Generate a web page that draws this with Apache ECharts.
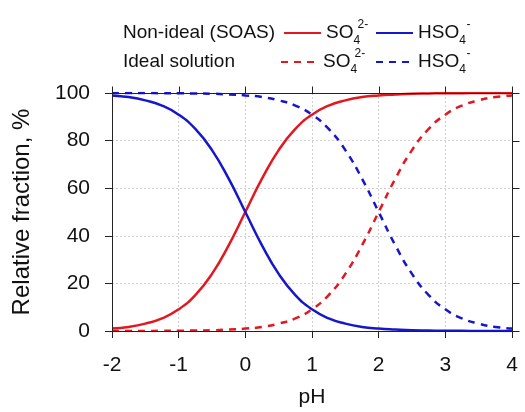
<!DOCTYPE html>
<html>
<head>
<meta charset="utf-8">
<script src="https://cdn.jsdelivr.net/npm/echarts@6/dist/echarts.min.js"></script>
<style>
  html, body { margin: 0; padding: 0; background: #fff; }
  #chart { width: 525px; height: 412px; }
</style>
</head>
<body>
<div id="chart"></div>
<script>
// pH steps
const pH = [-2, -1.75, -1.5, -1.25, -1, -0.75, -0.5, -0.25, 0, 0.25, 0.5, 0.75, 1,
  1.25, 1.5, 1.75, 2, 2.25, 2.5, 2.75, 3, 3.25, 3.5, 3.75, 4]

// non-ideal (SOAS)
const so4Soas = [1.0, 1.7, 3.1, 5.3, 9.1, 15.1, 24.0, 36.0, 50.0, 64.0, 76.0, 84.9, 90.9,
  94.7, 96.9, 98.3, 99.0, 99.4, 99.7, 99.8, 99.9, 99.9, 100, 100, 100]
const hso4Soas = [99.0, 98.3, 96.9, 94.7, 90.9, 84.9, 76.0, 64.0, 50.0, 36.0, 24.0, 15.1, 9.1,
  5.3, 3.1, 1.7, 1.0, 0.6, 0.3, 0.2, 0.1, 0.1, 0, 0, 0]

// ideal solution
const so4Ideal = [0, 0, 0, 0.1, 0.1, 0.2, 0.3, 0.6, 1.0, 1.7, 3.1, 5.3, 9.1,
  15.1, 24.0, 36.0, 50.0, 64.0, 76.0, 84.9, 90.9, 94.7, 96.9, 98.3, 99.0]
const hso4Ideal = [100, 100, 100, 99.9, 99.9, 99.8, 99.7, 99.4, 99.0, 98.3, 96.9, 94.7, 90.9,
  84.9, 76.0, 64.0, 50.0, 36.0, 24.0, 15.1, 9.1, 5.3, 3.1, 1.7, 1.0]

const xTicks = [-2, -1, 0, 1, 2, 3, 4]
const yTicks = [0, 20, 40, 60, 80, 100]

const RED = '#e3181f'
const BLUE = '#1616cc'
const FONT = 'Liberation Sans'

const chart = echarts.init(document.getElementById('chart'))

const pairs = ys => pH.map((x, i) => [x, ys[i]])

const mkSeries = (name, ys, color, dashed) => ({
  name: name,
  type: 'line',
  data: pairs(ys),
  smooth: true,
  showSymbol: false,
  symbol: 'none',
  lineStyle: { color: color, width: 2.5, type: dashed ? [7, 6] : 'solid' },
  itemStyle: { color: color },
  z: 3
})

// box round the plot plus the mirrored ticks on top and right
const frameSeries = {
  name: 'frame',
  type: 'custom',
  silent: true,
  clip: false,
  z: 10,
  data: [[xTicks[0], yTicks[0]]],
  renderItem: (params, api) => {
    const c = v => Math.round(v) + 0.5
    const tl = api.coord([xTicks[0], yTicks[yTicks.length - 1]])
    const br = api.coord([xTicks[xTicks.length - 1], yTicks[0]])
    const x0 = c(tl[0]), y0 = c(tl[1]), x1 = c(br[0]), y1 = c(br[1])
    const stroke = { stroke: '#222', lineWidth: 1, fill: null }
    const children = [{ type: 'rect', shape: { x: x0, y: y0, width: x1 - x0, height: y1 - y0 }, style: stroke }]
    xTicks.forEach(t => {
      const x = c(api.coord([t, yTicks[0]])[0])
      children.push({ type: 'line', shape: { x1: x, y1: y0, x2: x, y2: y0 - 7 }, style: stroke })
    })
    yTicks.forEach(t => {
      const y = c(api.coord([xTicks[0], t])[1])
      children.push({ type: 'line', shape: { x1: x1, y1: y, x2: x1 + 7, y2: y }, style: stroke })
    })
    return { type: 'group', children: children }
  }
}

const richText = {
  b: { fontSize: 19, fontFamily: FONT, color: '#111', lineHeight: 28, verticalAlign: 'middle' },
  sub: { fontSize: 12, fontFamily: FONT, color: '#111', verticalAlign: 'bottom', lineHeight: 28, width: 4 },
  sup: { fontSize: 12, fontFamily: FONT, color: '#111', verticalAlign: 'top', lineHeight: 28 }
}

const labelOf = {
  so4a: '{b|SO}{sub|4}{sup|2-}',
  hso4a: '{b|HSO}{sub|4}{sup| -}',
  so4b: '{b|SO}{sub|4}{sup|2-}',
  hso4b: '{b|HSO}{sub|4}{sup| -}'
}

const mkLegend = (name, left, top) => ({
  data: [name],
  left: left,
  top: top,
  itemWidth: 37,
  itemHeight: 14,
  itemGap: 0,
  padding: 0,
  itemStyle: { opacity: 0 },
  formatter: n => labelOf[n],
  textStyle: { rich: richText }
})

const axisLine = { show: true, onZero: false, lineStyle: { color: '#222', width: 1 } }
const axisTick = { show: true, inside: false, length: 7, lineStyle: { color: '#222' } }
const gridLine = { show: true, lineStyle: { color: '#cfcfcf', type: [2, 2] } }

const option = {
  animation: false,
  backgroundColor: '#fff',
  grid: { left: 112, right: 13, top: 93, bottom: 81, outerBoundsMode: 'none' },
  xAxis: {
    type: 'value', min: xTicks[0], max: xTicks[xTicks.length - 1], interval: 1,
    axisLine: axisLine, axisTick: axisTick, splitLine: gridLine,
    axisLabel: { fontSize: 21, fontFamily: FONT, color: '#111', margin: 24 },
    name: 'pH', nameLocation: 'middle', nameGap: 56,
    nameTextStyle: { fontSize: 21, fontFamily: FONT, color: '#111' }
  },
  yAxis: {
    type: 'value', min: yTicks[0], max: yTicks[yTicks.length - 1], interval: 20,
    axisLine: axisLine, axisTick: axisTick, splitLine: gridLine,
    axisLabel: { fontSize: 21, fontFamily: FONT, color: '#111', margin: 22 },
    name: 'Relative fraction, %', nameLocation: 'middle', nameGap: 78,
    nameTextStyle: { fontSize: 24, fontFamily: FONT, color: '#111' }
  },
  legend: [
    mkLegend('so4a', 283, 19),
    mkLegend('hso4a', 375, 19),
    mkLegend('so4b', 280, 48),
    mkLegend('hso4b', 375, 48)
  ],
  graphic: [
    { type: 'text', x: 123, y: 33, style: { text: 'Non-ideal (SOAS)', fontSize: 19, fontFamily: FONT, fill: '#111', verticalAlign: 'middle' } },
    { type: 'text', x: 123, y: 62, style: { text: 'Ideal solution', fontSize: 19, fontFamily: FONT, fill: '#111', verticalAlign: 'middle' } }
  ],
  series: [
    mkSeries('so4a', so4Soas, RED, false),
    mkSeries('hso4a', hso4Soas, BLUE, false),
    mkSeries('so4b', so4Ideal, RED, true),
    mkSeries('hso4b', hso4Ideal, BLUE, true),
    frameSeries
  ]
}

chart.setOption(option)
</script>
</body>
</html>
